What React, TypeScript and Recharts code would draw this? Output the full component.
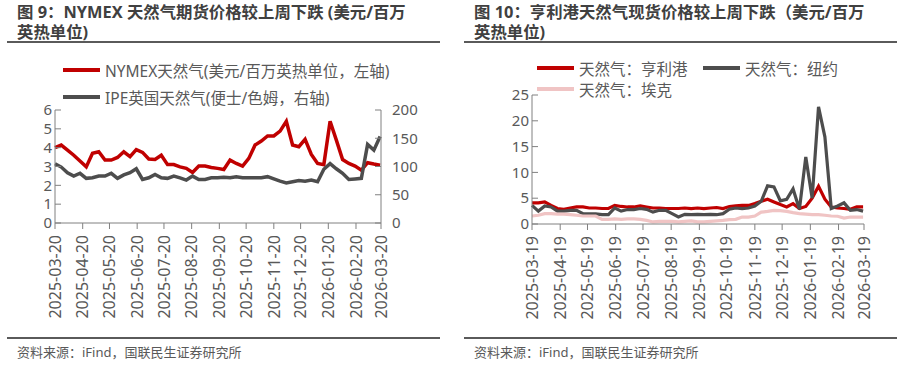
import React from "react";
import { Line, LineChart, XAxis, YAxis } from "recharts";

// 图9 NYMEX / IPE, weekly
const nymexDates = [
  "2025-03-20", "2025-03-27", "2025-04-03", "2025-04-10", "2025-04-17", "2025-04-24",
  "2025-05-01", "2025-05-08", "2025-05-15", "2025-05-22", "2025-05-29", "2025-06-05",
  "2025-06-12", "2025-06-19", "2025-06-26", "2025-07-03", "2025-07-10", "2025-07-17",
  "2025-07-24", "2025-07-31", "2025-08-07", "2025-08-14", "2025-08-21", "2025-08-28",
  "2025-09-04", "2025-09-11", "2025-09-18", "2025-09-25", "2025-10-02", "2025-10-09",
  "2025-10-16", "2025-10-23", "2025-10-30", "2025-11-06", "2025-11-13", "2025-11-20",
  "2025-11-27", "2025-12-04", "2025-12-11", "2025-12-18", "2025-12-25", "2026-01-01",
  "2026-01-08", "2026-01-15", "2026-01-22", "2026-01-29", "2026-02-05", "2026-02-12",
  "2026-02-19", "2026-02-26", "2026-03-05", "2026-03-12", "2026-03-19",
];
const nymexPrice = [
  4.0, 4.14, 3.87, 3.6, 3.29, 2.98, 3.7, 3.78, 3.34, 3.34,
  3.48, 3.78, 3.52, 3.9, 3.75, 3.4, 3.37, 3.6, 3.1, 3.1,
  2.98, 2.9, 2.68, 3.02, 3.02, 2.95, 2.9, 2.84, 3.34, 3.16,
  3.02, 3.43, 4.14, 4.35, 4.62, 4.62, 4.88, 5.4, 4.14, 4.05,
  4.44, 3.64, 3.16, 3.1, 5.4, 4.4, 3.37, 3.16, 3.02, 2.8,
  3.2, 3.13, 3.07,
];
const ipePrice = [
  105, 99, 89, 83, 88, 79, 80, 83, 83, 88,
  79, 85, 89, 96, 77, 80, 86, 80, 79, 83,
  80, 76, 83, 77, 77, 80, 80, 81, 80, 82,
  80, 80, 80, 80, 82, 78, 74, 71, 73, 75,
  74, 76, 73, 95, 105, 96, 88, 77, 78, 79,
  139, 129, 153,
];
const nymexTicks = [
  "2025-03-20", "2025-04-20", "2025-05-20", "2025-06-20", "2025-07-20", "2025-08-20",
  "2025-09-20", "2025-10-20", "2025-11-20", "2025-12-20", "2026-01-20", "2026-02-20",
  "2026-03-20",
];

// 图10 spot prices, weekly
const spotDates = [
  "2025-03-19", "2025-03-26", "2025-04-02", "2025-04-09", "2025-04-16", "2025-04-23",
  "2025-04-30", "2025-05-07", "2025-05-14", "2025-05-21", "2025-05-28", "2025-06-04",
  "2025-06-11", "2025-06-18", "2025-06-25", "2025-07-02", "2025-07-09", "2025-07-16",
  "2025-07-23", "2025-07-30", "2025-08-06", "2025-08-13", "2025-08-20", "2025-08-27",
  "2025-09-03", "2025-09-10", "2025-09-17", "2025-09-24", "2025-10-01", "2025-10-08",
  "2025-10-15", "2025-10-22", "2025-10-29", "2025-11-05", "2025-11-12", "2025-11-19",
  "2025-11-26", "2025-12-03", "2025-12-10", "2025-12-17", "2025-12-24", "2025-12-31",
  "2026-01-07", "2026-01-14", "2026-01-21", "2026-01-28", "2026-02-04", "2026-02-11",
  "2026-02-18", "2026-02-25", "2026-03-04", "2026-03-11", "2026-03-18",
];
const henryHub = [
  4.08, 4.08, 4.27, 3.6, 3.0, 2.85, 3.1, 3.3, 3.3, 3.1,
  3.1, 3.0, 3.0, 3.6, 3.4, 3.3, 3.3, 3.5, 3.3, 3.1,
  3.1, 3.0, 3.0, 3.0, 3.1, 3.0, 3.1, 3.0, 3.1, 3.2,
  3.0, 3.4, 3.5, 3.6, 3.6, 3.95, 4.4, 4.8, 4.27, 3.76,
  3.3, 3.95, 3.0, 3.4, 5.0, 7.3, 4.8, 3.3, 3.1, 3.0,
  2.85, 3.3, 3.3,
];
const newYork = [
  3.6, 2.5, 3.5, 3.3, 2.5, 2.5, 2.65, 2.65, 2.0, 1.95,
  1.95, 1.8, 1.8, 3.1, 2.5, 2.8, 2.8, 3.0, 2.85, 2.3,
  2.65, 2.65, 2.0, 1.36, 1.88, 1.8, 1.88, 1.8, 1.88, 1.8,
  2.0, 2.85, 3.1, 3.0, 3.1, 3.5, 4.4, 7.4, 7.2, 4.5,
  4.8, 6.8, 2.85, 13.0, 5.0, 22.7, 16.9, 3.0, 3.5, 4.1,
  2.65, 2.8, 2.5,
];
const aeco = [
  1.55, 1.7, 2.0, 2.0, 1.9, 1.9, 1.8, 1.7, 1.55, 1.55,
  1.55, 0.9, 0.9, 1.0, 0.9, 1.0, 1.0, 0.9, 0.7, 0.4,
  0.5, 0.5, 0.5, 0.4, 0.5, 0.6, 0.4, 0.4, 0.5, 0.6,
  0.7, 0.85, 0.9, 1.35, 1.35, 1.55, 2.3, 2.45, 2.65, 2.6,
  2.45, 2.2, 2.0, 1.9, 1.8, 1.8, 1.7, 1.55, 1.5, 1.15,
  1.35, 1.35, 1.35,
];
const spotTicks = [
  "2025-03-19", "2025-04-19", "2025-05-19", "2025-06-19", "2025-07-19", "2025-08-19",
  "2025-09-19", "2025-10-19", "2025-11-19", "2025-12-19", "2026-01-19", "2026-02-19",
  "2026-03-19",
];

const leftTicks = [0, 1, 2, 3, 4, 5, 6];
const rightTicks = [0, 50, 100, 150, 200];
const spotYTicks = [0, 5, 10, 15, 20, 25];

const RED = "#c00000";
const GREY = "#4d4d4d";
const PINK = "#f0c4c4";
const AXIS = "#808080";
const TEXT = "#595959";
const FONT = "'Noto Sans', 'Noto Sans CJK SC', sans-serif";

const nymexData = nymexDates.map((d, i) => ({
  t: Date.parse(d),
  nymex: nymexPrice[i],
  ipe: ipePrice[i],
}));
const spotData = spotDates.map((d, i) => ({
  t: Date.parse(d),
  henry: henryHub[i],
  ny: newYork[i],
  aeco: aeco[i],
}));

function DateTick({ x, y, payload }: any) {
  const label = new Date(payload.value).toISOString().slice(0, 10);
  return (
    <g transform={`translate(${x},${y})`}>
      <text
        transform="rotate(-90)"
        x={-4}
        y={0}
        dy="0.36em"
        textAnchor="end"
        fill={TEXT}
        fontSize={16}
      >
        {label}
      </text>
    </g>
  );
}

// y tick drawn by hand so every value shows, labels sit on the outer side
function ValueTick({ x, y, payload, side }: any) {
  return (
    <text
      x={x}
      y={y}
      dy="0.35em"
      textAnchor={side === "right" ? "start" : "end"}
      fill={TEXT}
      fontSize={15}
    >
      {payload.value}
    </text>
  );
}

function LegendItem({ color, label, x, y }: { color: string; label: string; x: number; y: number }) {
  return (
    <div style={{ position: "absolute", left: x, top: y - 11, height: 22, display: "flex", alignItems: "center" }}>
      <div style={{ width: 37, height: 4, background: color, marginRight: 5 }} />
      <span style={{ fontSize: 15.5, color: TEXT, whiteSpace: "nowrap" }}>{label}</span>
    </div>
  );
}

const titleStyle: React.CSSProperties = {
  position: "absolute",
  fontSize: 16.4,
  fontWeight: 700,
  lineHeight: "20px",
  height: 20,
  color: "#404040",
  whiteSpace: "nowrap",
};

function Frame({ x, title1, title2 }: { x: number; title1: string; title2: string }) {
  return (
    <>
      <div style={{ ...titleStyle, left: x + 10, top: 2 }}>{title1}</div>
      <div style={{ ...titleStyle, left: x + 10, top: 22 }}>{title2}</div>
      <div style={{ position: "absolute", left: x, top: 41, width: 433, height: 2, background: "#5a5a5a" }} />
      <div style={{ position: "absolute", left: x, top: 337, width: 433, height: 2, background: "#5a5a5a" }} />
      <div style={{ position: "absolute", left: x + 10, top: 343, fontSize: 13, lineHeight: "18px", color: TEXT }}>
        资料来源：iFind，国联民生证券研究所
      </div>
    </>
  );
}

export default function App() {
  return (
    <div style={{ position: "absolute", left: 0, top: 0, width: 903, height: 380, background: "#fff", fontFamily: FONT }}>
      <Frame x={7} title1="图 9：NYMEX 天然气期货价格较上周下跌 (美元/百万" title2="英热单位)" />
      <Frame x={464} title1="图 10：亨利港天然气现货价格较上周下跌（美元/百万" title2="英热单位)" />

      <LegendItem color={RED} label="NYMEX天然气(美元/百万英热单位，左轴)" x={63} y={70} />
      <LegendItem color={GREY} label="IPE英国天然气(便士/色姆，右轴)" x={63} y={97} />

      <LegendItem color={RED} label="天然气：亨利港" x={537} y={68} />
      <LegendItem color={GREY} label="天然气：纽约" x={703} y={68} />
      <LegendItem color={PINK} label="天然气：埃克" x={537} y={89} />

      <div style={{ position: "absolute", left: 0, top: 0 }}>
        <LineChart width={450} height={330} data={nymexData} margin={{ top: 110, right: 24, left: 0, bottom: 7 }}>
          <XAxis
            dataKey="t"
            type="number"
            domain={[Date.parse(nymexTicks[0]), Date.parse(nymexTicks[nymexTicks.length - 1])]}
            ticks={nymexTicks.map((d) => Date.parse(d))}
            interval={0}
            height={100}
            tickSize={6}
            tickMargin={2}
            axisLine={{ stroke: AXIS }}
            tickLine={{ stroke: AXIS }}
            tick={<DateTick />}
          />
          <YAxis
            yAxisId="left"
            domain={[0, 6]}
            ticks={leftTicks}
            interval={0}
            width={55}
            tickSize={-6}
            tickMargin={9}
            axisLine={{ stroke: AXIS }}
            tickLine={{ stroke: AXIS }}
            tick={<ValueTick side="left" />}
          />
          <YAxis
            yAxisId="right"
            orientation="right"
            domain={[0, 200]}
            ticks={rightTicks}
            interval={0}
            width={45}
            tickSize={-6}
            tickMargin={17}
            axisLine={{ stroke: AXIS }}
            tickLine={{ stroke: AXIS }}
            tick={<ValueTick side="right" />}
          />
          <Line yAxisId="left" dataKey="nymex" stroke={RED} strokeWidth={3.5} dot={false} type="linear" isAnimationActive={false} />
          <Line yAxisId="right" dataKey="ipe" stroke={GREY} strokeWidth={3.5} dot={false} type="linear" isAnimationActive={false} />
        </LineChart>
      </div>

      <div style={{ position: "absolute", left: 455, top: 0 }}>
        <LineChart width={448} height={330} data={spotData} margin={{ top: 95, right: 39, left: 0, bottom: 6 }}>
          <XAxis
            dataKey="t"
            type="number"
            domain={[Date.parse(spotTicks[0]), Date.parse(spotTicks[spotTicks.length - 1])]}
            ticks={spotTicks.map((d) => Date.parse(d))}
            interval={0}
            height={100}
            tickSize={6}
            tickMargin={2}
            axisLine={{ stroke: AXIS }}
            tickLine={{ stroke: AXIS }}
            tick={<DateTick />}
          />
          <YAxis
            domain={[0, 25]}
            ticks={spotYTicks}
            interval={0}
            width={77}
            tickSize={-6}
            tickMargin={9}
            axisLine={{ stroke: AXIS }}
            tickLine={{ stroke: AXIS }}
            tick={<ValueTick side="left" />}
          />
          <Line dataKey="henry" stroke={RED} strokeWidth={3.2} dot={false} type="linear" isAnimationActive={false} />
          <Line dataKey="ny" stroke={GREY} strokeWidth={3.2} dot={false} type="linear" isAnimationActive={false} />
          <Line dataKey="aeco" stroke={PINK} strokeWidth={3.2} dot={false} type="linear" isAnimationActive={false} />
        </LineChart>
      </div>
    </div>
  );
}
